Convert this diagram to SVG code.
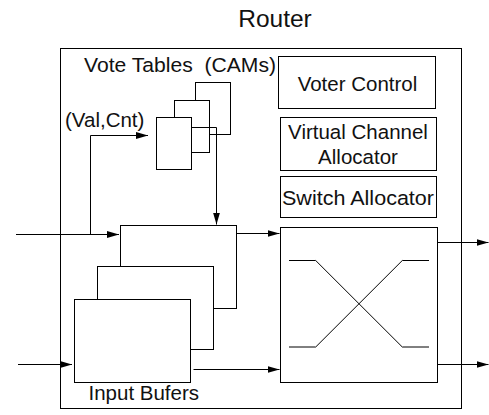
<svg xmlns="http://www.w3.org/2000/svg" width="489" height="415" viewBox="0 0 489 415">
<style>
.b{fill:#fff;stroke:#000;stroke-width:1}
.l{fill:none;stroke:#000;stroke-width:1}
.t{font-family:"Liberation Sans",Arial,sans-serif;font-size:20.5px;fill:#111}
</style>
<defs>
<marker id="ah" markerUnits="userSpaceOnUse" markerWidth="13" markerHeight="9" refX="12" refY="4" orient="auto">
<path d="M0,0.5 L12,4 L0,7.5 z" fill="#000"/>
</marker>
</defs>
<rect width="489" height="415" fill="#fff"/>
<text class="t" x="275" y="26.5" text-anchor="middle" style="font-size:24.5px">Router</text>
<g id="router">
<rect class="b" x="60.5" y="48.5" width="401" height="360"/>
</g>
<text class="t" x="84" y="72" textLength="192" lengthAdjust="spacingAndGlyphs" xml:space="preserve">Vote Tables  (CAMs)</text>
<g id="voter-control">
<rect class="b" x="278.5" y="56.5" width="157" height="52"/>
<text class="t" x="357.5" y="90.5" text-anchor="middle">Voter Control</text>
</g>
<g id="vc-allocator">
<rect class="b" x="280.5" y="117.5" width="156" height="53"/>
<text class="t" x="358" y="138.5" text-anchor="middle">Virtual Channel</text>
<text class="t" x="358" y="163.5" text-anchor="middle">Allocator</text>
</g>
<g id="switch-allocator">
<rect class="b" x="280.5" y="176.5" width="156" height="41"/>
<text class="t" x="358" y="204.5" text-anchor="middle" textLength="152" lengthAdjust="spacingAndGlyphs">Switch Allocator</text>
</g>
<g id="vote-tables">
<rect class="b" x="195.5" y="82.5" width="35" height="52"/>
<rect class="b" x="174.5" y="100.5" width="35" height="52"/>
<rect class="b" x="156.5" y="117.5" width="35" height="52"/>
</g>
<text class="t" x="65" y="126.5">(Val,Cnt)</text>
<g id="input-buffers">
<rect class="b" x="120.5" y="225.5" width="116" height="83"/>
<rect class="b" x="97.5" y="266.5" width="116" height="83"/>
<rect class="b" x="74.5" y="299.5" width="116" height="83"/>
<text class="t" x="88.5" y="400">Input Bufers</text>
</g>
<g id="crossbar">
<rect class="b" x="280.5" y="227.5" width="157" height="155"/>
<path class="l" d="M289,260.5 H315.7 L402.3,347 H429"/>
<path class="l" d="M289,347 H315.7 L402.3,260.5 H429"/>
</g>
<g id="connectors">
<path class="l" d="M90.5,234 V135.5 H148" marker-end="url(#ah)"/>
<path class="l" d="M16,234.5 H119" marker-end="url(#ah)"/>
<path class="l" d="M191.5,127.5 H216.5 V224.5" marker-end="url(#ah)"/>
<path class="l" d="M236.5,233.5 H279.5" marker-end="url(#ah)"/>
<path class="l" d="M18,364.5 H72" marker-end="url(#ah)"/>
<path class="l" d="M193.5,369.5 H279.5" marker-end="url(#ah)"/>
<path class="l" d="M437.5,242.5 H488.5" marker-end="url(#ah)"/>
<path class="l" d="M437.5,364.5 H488.5" marker-end="url(#ah)"/>
</g>
</svg>
